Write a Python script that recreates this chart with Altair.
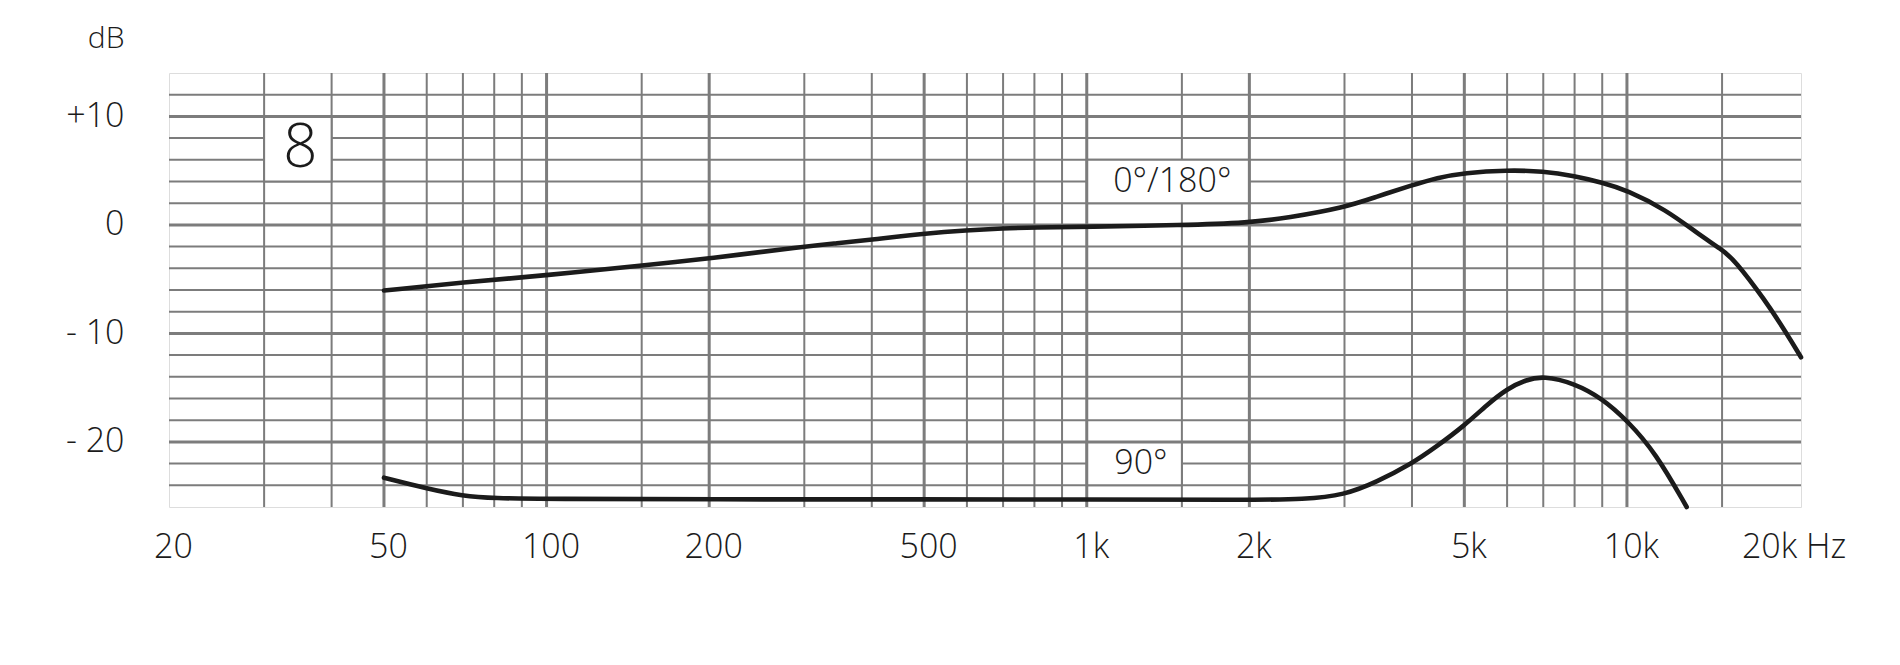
import altair as alt
import pandas as pd

# ---------------- data ----------------
freq_0_180 = [50, 70, 100, 150, 200, 300, 344, 400, 500, 600, 700, 800, 1000, 1500,
              2000, 2350, 3000, 3440, 4000, 4450, 5000, 6000, 7000, 8000, 9000, 10000,
              11800, 13500, 15000, 15800, 18000, 19750, 21000]
db_0_180 = [-6.05, -5.3, -4.65, -3.75, -3.1, -2.0, -1.7, -1.35, -0.8, -0.49, -0.32, -0.23, -0.17, -0.03,
            0.2, 0.65, 1.6, 2.6, 3.65, 4.35, 4.8, 5.05, 4.95, 4.5, 3.9, 3.2,
            1.4, -0.77, -2.3, -3.2, -6.9, -10.0, -12.2]

freq_90 = [50, 60, 70, 80, 100, 200, 500, 1000, 2000, 2530, 3000, 3440, 4000, 4450,
           5000, 5500, 6000, 6490, 7000, 8000, 9000, 10000, 11300, 12900]
db_90 = [-23.3, -24.3, -25.0, -25.2, -25.25, -25.3, -25.3, -25.3, -25.35, -25.3, -24.9, -23.7, -22.0, -20.4,
         -18.5, -16.6, -15.1, -14.3, -13.9, -14.6, -16.0, -18.0, -21.0, -26.0]

# grid
vgrid_minor = [30, 40, 60, 70, 80, 90, 150, 300, 400, 600, 700, 800, 900,
               1500, 3000, 4000, 6000, 7000, 8000, 9000, 15000]
vgrid_major = [50, 100, 200, 500, 1000, 2000, 5000, 10000]
hgrid_minor = [-24, -22, -18, -16, -14, -12, -8, -6, -4, -2, 2, 4, 6, 8, 12]
hgrid_major = [-20, -10, 0, 10]

# axis ticks
x_tick_values = [20, 50, 100, 200, 500, 1000, 2000, 5000, 10000, 20000]
x_tick_labels = ["20", "50", "100", "200", "500", "1k", "2k", "5k", "10k", "20k Hz"]
y_tick_values = [-20, -10, 0, 10]
y_tick_labels = ["- 20", "- 10", "0", "+10"]

# annotations (label, position) and their white cells
ann_text = ["8", "0°/180°", "90°"]
ann_f = [35, 1440, 1260]
ann_db = [7, 4, -22]
ann_size = [60, 34, 34]
box_f1 = [30, 1000, 1000]
box_f2 = [40, 2000, 1500]
box_db1 = [10, 6, -20]
box_db2 = [4, 2, -24]

# ---------------- chart ----------------
FONT = "Open Sans"
GRID = "#7c7c7c"
INK = "#1b1b1b"


def label_expr(values, labels):
    expr = "''"
    for v, l in reversed(list(zip(values, labels))):
        expr = f"datum.value == {v} ? '{l}' : ({expr})"
    return expr


x_scale = alt.Scale(type="log", domain=[20, 21000], nice=False)
y_scale = alt.Scale(domain=[-26, 14], nice=False, zero=False)

x_axis = alt.Axis(values=x_tick_values, labelExpr=label_expr(x_tick_values, x_tick_labels),
                  domain=False, ticks=False, grid=False, title=None,
                  labelPadding=23, labelFontSize=34, labelFont=FONT, labelFontWeight=300,
                  labelColor=INK, labelFlush=False, labelOverlap=False, labelBound=False,
                  labelOffset=4)
y_axis = alt.Axis(values=y_tick_values, labelExpr=label_expr(y_tick_values, y_tick_labels),
                  domain=False, ticks=False, grid=False,
                  labelPadding=45, labelFontSize=34, labelFont=FONT, labelFontWeight=300,
                  labelColor=INK, labelFlush=False, labelOverlap=False,
                  title="dB", titleAngle=0, titleAlign="right", titleBaseline="middle",
                  titleX=-45, titleY=-35, titleFontSize=30, titleFont=FONT,
                  titleFontWeight=300, titleColor=INK)

X = lambda f="f": alt.X(f"{f}:Q", scale=x_scale, axis=x_axis)
Y = lambda f="db": alt.Y(f"{f}:Q", scale=y_scale, axis=y_axis)

v_minor = alt.Chart(pd.DataFrame({"f": vgrid_minor})).mark_rule(
    color=GRID, strokeWidth=2).encode(x=X())
h_minor = alt.Chart(pd.DataFrame({"db": hgrid_minor})).mark_rule(
    color=GRID, strokeWidth=2).encode(y=Y())

boxes = alt.Chart(pd.DataFrame({"f": box_f1, "f2": box_f2, "db": box_db1, "db2": box_db2})).mark_rect(
    fill="white", stroke=GRID, strokeWidth=2).encode(
    x=X(), x2="f2:Q", y=Y(), y2="db2:Q")

v_major = alt.Chart(pd.DataFrame({"f": vgrid_major})).mark_rule(
    color=GRID, strokeWidth=3).encode(x=X())
h_major = alt.Chart(pd.DataFrame({"db": hgrid_major})).mark_rule(
    color=GRID, strokeWidth=3).encode(y=Y())

curves_df = pd.DataFrame({
    "f": freq_0_180 + freq_90,
    "db": db_0_180 + db_90,
    "s": ["0/180"] * len(freq_0_180) + ["90"] * len(freq_90),
})
curves = alt.Chart(curves_df).mark_line(
    color=INK, strokeWidth=4.6, interpolate="basis", strokeCap="round").encode(
    x=X(), y=Y(), detail="s:N")

labels = alt.Chart(pd.DataFrame({"f": ann_f, "db": ann_db, "t": ann_text, "sz": ann_size})).mark_text(
    font=FONT, fontWeight=300, color=INK, align="center", baseline="middle").encode(
    x=X(), y=Y(), text="t:N", size=alt.Size("sz:Q", scale=None, legend=None))

chart = alt.layer(v_minor, h_minor, boxes, v_major, h_major, curves, labels).properties(
    width=1632, height=434,
    autosize=alt.AutoSizeParams(type="none"),
    padding={"left": 161, "top": 65, "right": 90, "bottom": 140},
).configure_view(stroke=GRID, strokeWidth=3).configure(background="white")

chart.save("out.html", embed_options={"renderer": "svg", "actions": False})
